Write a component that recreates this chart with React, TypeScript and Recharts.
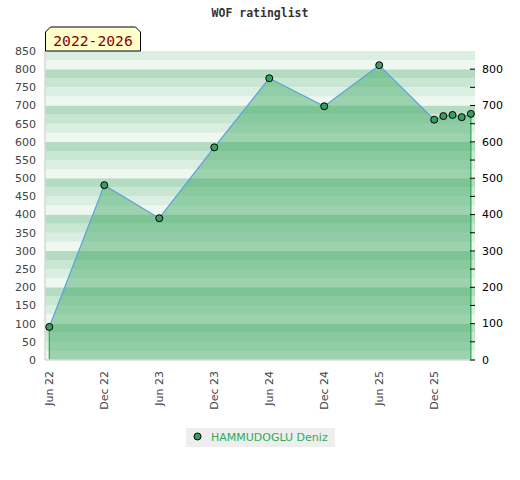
import React from "react";
import {
  ComposedChart,
  Area,
  Line,
  XAxis,
  YAxis,
  ReferenceArea,
  ReferenceLine,
} from "recharts";

const playerName = "HAMMUDOGLU Deniz";
const periodLabel = "2022-2026";

const dates: string[] = [
  "2022-06", "2022-12", "2023-06", "2023-12", "2024-06", "2024-12",
  "2025-06", "2025-12", "2026-01", "2026-02", "2026-03", "2026-04",
];
const ratings: number[] = [91, 481, 390, 585, 775, 698, 811, 661, 671, 674, 668, 677];

const xTickDates: string[] = [
  "2022-06", "2022-12", "2023-06", "2023-12", "2024-06", "2024-12", "2025-06", "2025-12",
];
const xTickLabels: string[] = [
  "Jun 22", "Dec 22", "Jun 23", "Dec 23", "Jun 24", "Dec 24", "Jun 25", "Dec 25",
];
const leftTicks: number[] = [
  0, 50, 100, 150, 200, 250, 300, 350, 400, 450, 500, 550, 600, 650, 700, 750, 800, 850,
];
const rightTicks: number[] = [
  0, 50, 100, 150, 200, 250, 300, 350, 400, 450, 500, 550, 600, 650, 700, 750, 800,
];
// background stripes, 25 rating points each
const bandStarts: number[] = [
  0, 25, 50, 75, 100, 125, 150, 175, 200, 225, 250, 275, 300, 325, 350, 375, 400, 425,
  450, 475, 500, 525, 550, 575, 600, 625, 650, 675, 700, 725, 750, 775, 800, 825,
];
const bandColors = ["#eff7f1", "#dbeee2", "#c9e6d3", "#b3dcc2"];

// month index counted from Jun 2022
const toMonth = (d: string) => {
  const [y, m] = d.split("-").map(Number);
  return (y - 2022) * 12 + (m - 6);
};

const data = dates.map((d, i) => ({ m: toMonth(d), rating: ratings[i], band: ratings[i] }));
const xTicks = xTickDates.map(toMonth);
const labelFor = (m: number) => xTickLabels[xTicks.indexOf(m)] ?? "";

const first = data[0];
const last = data[data.length - 1];

const XTick = (props: any) => {
  const { x, y, payload } = props;
  return (
    <g transform={`translate(${x},${y + 11})`}>
      <text
        transform="rotate(-90)"
        textAnchor="end"
        dy="0.35em"
        fill="#444"
        fontSize={11}
        fontFamily="DejaVu Sans"
      >
        {labelFor(payload.value)}
      </text>
    </g>
  );
};

const RightTick = (props: any) => {
  const { x, y, payload } = props;
  return (
    <g>
      <line x1={x - 5} x2={x} y1={y} y2={y} stroke="#000" strokeWidth={1} />
      {payload.value % 100 === 0 && (
        <text
          x={x + 7}
          y={y}
          dy="0.35em"
          textAnchor="start"
          fill="#000"
          fontSize={11}
          fontFamily="DejaVu Sans"
        >
          {payload.value}
        </text>
      )}
    </g>
  );
};

export default function App() {
  return (
    <div
      style={{
        position: "absolute",
        left: 0,
        top: 0,
        width: 520,
        height: 480,
        background: "#fff",
        fontFamily: "DejaVu Sans",
      }}
    >
      <div
        style={{
          position: "absolute",
          left: 0,
          width: 520,
          top: 6,
          textAlign: "center",
          fontFamily: "DejaVu Sans Mono",
          fontWeight: "bold",
          fontSize: 11.5,
          color: "#333",
        }}
      >
        WOF ratinglist
      </div>

      <ComposedChart
        width={520}
        height={480}
        data={data}
        margin={{ top: 51, right: 0, bottom: 60, left: 0 }}
      >
        <XAxis
          dataKey="m"
          type="number"
          domain={[-0.47, 46.45]}
          ticks={xTicks}
          interval={0}
          height={60}
          tickSize={0}
          tickMargin={0}
          tick={<XTick />}
          axisLine={{ stroke: "#d8d8d8", strokeWidth: 1.5 }}
        />
        <YAxis
          yAxisId="left"
          domain={[0, 850]}
          ticks={leftTicks}
          interval={0}
          width={45}
          tickSize={0}
          tickMargin={9}
          tick={{ fill: "#444", fontSize: 11, fontFamily: "DejaVu Sans" }}
          axisLine={{ stroke: "#d8d8d8", strokeWidth: 1.5 }}
        />
        <YAxis
          yAxisId="right"
          orientation="right"
          domain={[0, 850]}
          ticks={rightTicks}
          interval={0}
          width={45}
          tickSize={0}
          tickMargin={0}
          tick={<RightTick />}
          axisLine={false}
        />
        {bandStarts.map((b, i) => (
          <ReferenceArea
            key={b}
            yAxisId="left"
            y1={b}
            y2={b + 25}
            fill={bandColors[i % bandColors.length]}
            fillOpacity={1}
            stroke="none"
            zIndex={-100}
          />
        ))}
        <Area
          yAxisId="left"
          type="linear"
          dataKey="rating"
          stroke="none"
          fill="rgb(64,170,100)"
          fillOpacity={0.48}
          baseValue={0}
          isAnimationActive={false}
        />
        {/* invisible series so the right axis has an item */}
        <Line
          yAxisId="right"
          dataKey="band"
          stroke="none"
          dot={false}
          activeDot={false}
          legendType="none"
          isAnimationActive={false}
        />
        <ReferenceLine
          yAxisId="left"
          segment={[{ x: first.m, y: 0 }, { x: first.m, y: first.rating }]}
          stroke="#2fa84f"
          strokeWidth={1.2}
        />
        <ReferenceLine
          yAxisId="left"
          segment={[{ x: last.m, y: 0 }, { x: last.m, y: last.rating }]}
          stroke="#2fa84f"
          strokeWidth={1.2}
        />
        <Line
          yAxisId="left"
          type="linear"
          dataKey="rating"
          stroke="#5ba3d9"
          strokeWidth={1.2}
          dot={{ r: 3.5, fill: "#3a9f5e", stroke: "#000", strokeWidth: 1, fillOpacity: 1 }}
          activeDot={false}
          isAnimationActive={false}
        />
      </ComposedChart>

      <svg
        width={100}
        height={30}
        style={{ position: "absolute", left: 42, top: 24, overflow: "visible" }}
      >
        <polygon
          points="3.5,27 3.5,8 8.5,3 93.5,3 98.5,8 98.5,27"
          fill="#ffffcc"
          stroke="#000"
          strokeWidth={1}
        />
        <text
          x={51}
          y={22}
          textAnchor="middle"
          fill="#8b0000"
          fontSize={14.7}
          fontFamily="DejaVu Sans Mono"
        >
          {periodLabel}
        </text>
      </svg>

      <div
        style={{
          position: "absolute",
          left: 186,
          top: 428,
          width: 149,
          height: 19,
          background: "#eeeeee",
          display: "flex",
          alignItems: "center",
        }}
      >
        <svg width={24} height={19}>
          <circle cx={11.5} cy={8.5} r={3.5} fill="#3a9f5e" stroke="#000" strokeWidth={1} />
        </svg>
        <span
          style={{
            color: "#33aa55",
            fontSize: 11,
            fontFamily: "DejaVu Sans",
            marginLeft: 1,
            whiteSpace: "nowrap",
          }}
        >
          {playerName}
        </span>
      </div>
    </div>
  );
}
